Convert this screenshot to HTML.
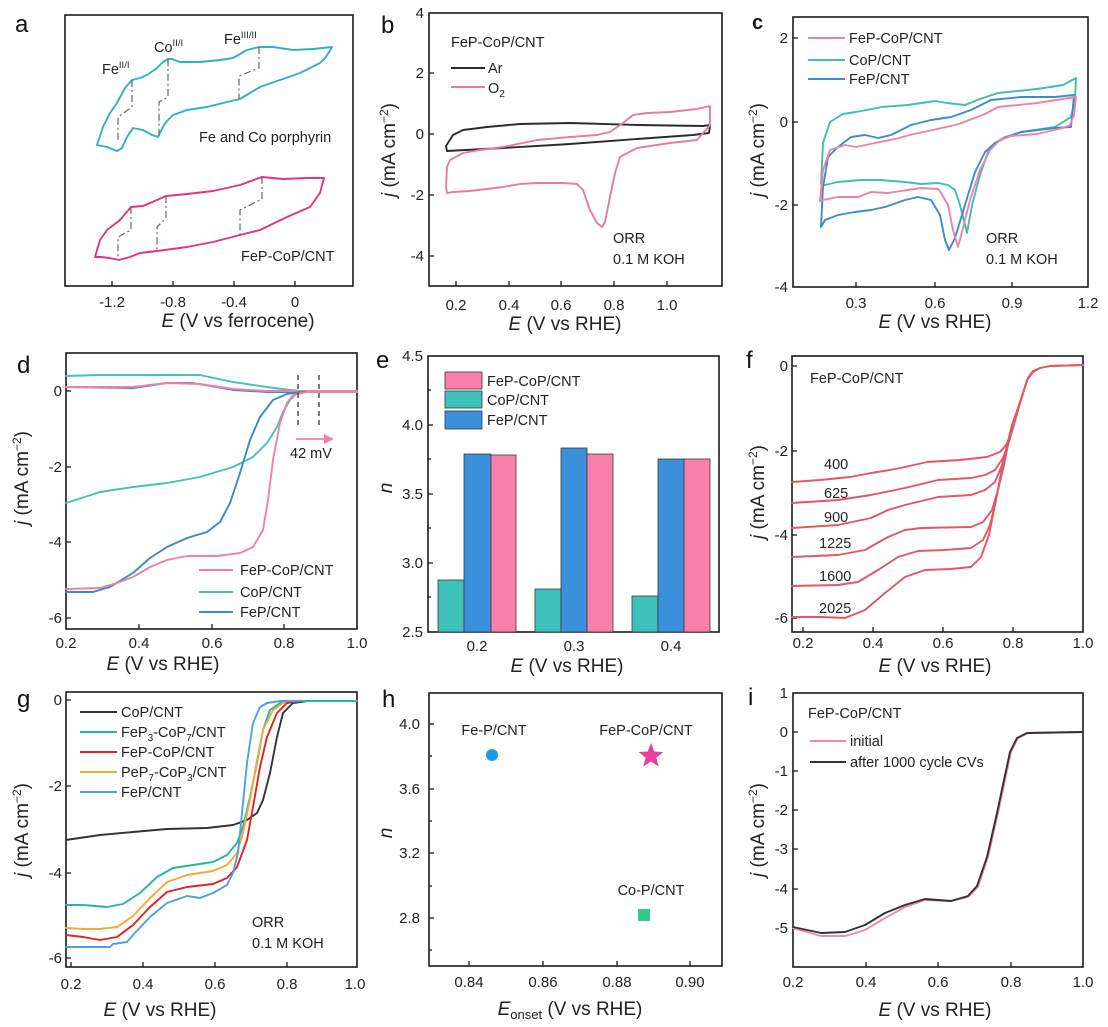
<!DOCTYPE html>
<html><head><meta charset="utf-8"><style>
html,body{margin:0;padding:0;background:#fff;}
svg{display:block;font-family:"Liberation Sans",Arial,sans-serif;}
.ax{fill:none;stroke:#1a1a1a;stroke-width:1.6;}
.tk{stroke:#1a1a1a;stroke-width:1.3;}
.tl{font-size:15px;fill:#222;}
.tt{font-size:19px;fill:#222;}
.lg{font-size:14.5px;fill:#222;}
.pl{font-size:24px;fill:#111;}
.c{fill:none;stroke-width:1.9;stroke-linejoin:round;stroke-linecap:round;}
.dd{fill:none;stroke:#666;stroke-width:1.2;stroke-dasharray:7 3 2 3;}
</style></head><body>
<svg width="1108" height="1027" viewBox="0 0 1108 1027" xmlns="http://www.w3.org/2000/svg">
<rect width="1108" height="1027" fill="#fff"/>

<!-- ===== Panel a ===== -->
<text class="pl" x="15" y="32">a</text>
<rect class="ax" x="65" y="15" width="288" height="271"/>
<g class="tk">
<line x1="112" y1="286" x2="112" y2="281"/><line x1="173" y1="286" x2="173" y2="281"/><line x1="234" y1="286" x2="234" y2="281"/><line x1="295" y1="286" x2="295" y2="281"/>
</g>
<g class="tl" text-anchor="middle">
<text x="112" y="307">-1.2</text><text x="173" y="307">-0.8</text><text x="234" y="307">-0.4</text><text x="295" y="307">0</text>
</g>
<text class="tt" x="238" y="327" text-anchor="middle"><tspan font-style="italic">E</tspan> (V vs ferrocene)</text>
<polyline class="c" stroke="#2FB2BE" points="97,145 103,127 110,113 117,103 125,88 132,80 140,78 147,75 157,68 163,62 168,59 172,59 180,62 200,62 220,60 233,58 247,50 259,47 273,47 293,50 313,49 332,47 326,57 320,63 300,73 280,80 260,87 240,99 227,102 207,107 187,110 173,115 166,122 163,127 158,137 152,135 143,130 133,128 127,137 122,148 117,151 107,147 97,145"/>
<polyline class="dd" points="132,80 132,107 118,117 118,142"/>
<polyline class="dd" points="168,59 168,97 159,102 159,137"/>
<polyline class="dd" points="259,47 259,68 239,76 239,99"/>
<text class="lg" x="102" y="74">Fe<tspan font-size="9.5" dy="-6">II/I</tspan></text>
<text class="lg" x="154" y="52">Co<tspan font-size="9.5" dy="-6">II/I</tspan></text>
<text class="lg" x="224" y="44">Fe<tspan font-size="9.5" dy="-6">III/II</tspan></text>
<text class="lg" x="199" y="142">Fe and Co porphyrin</text>
<polyline class="c" stroke="#E0357F" points="95,257 100,240 107,230 120,220 131,207 143,206 157,200 166,196 187,194 213,191 240,185 262,177 283,179 307,178 324,178 320,193 310,207 287,217 260,230 240,235 213,242 187,247 157,251 140,253 130,257 119,260 110,258 100,257 95,257"/>
<polyline class="dd" points="131,207 131,230 118,237 118,259"/>
<polyline class="dd" points="166,196 166,218 157,227 157,251"/>
<polyline class="dd" points="262,177 262,199 240,210 240,235"/>
<text class="lg" x="241" y="261">FeP-CoP/CNT</text>

<!-- ===== Panel b ===== -->
<text class="pl" x="381" y="33">b</text>
<rect class="ax" x="429" y="13" width="293" height="273"/>
<g class="tk">
<line x1="429" y1="73" x2="434" y2="73"/><line x1="429" y1="134" x2="434" y2="134"/><line x1="429" y1="195" x2="434" y2="195"/><line x1="429" y1="256" x2="434" y2="256"/>
<line x1="456" y1="286" x2="456" y2="281"/><line x1="509" y1="286" x2="509" y2="281"/><line x1="561" y1="286" x2="561" y2="281"/><line x1="614" y1="286" x2="614" y2="281"/><line x1="667" y1="286" x2="667" y2="281"/>
</g>
<g class="tl" text-anchor="end">
<text x="424" y="18">4</text><text x="424" y="78">2</text><text x="424" y="139">0</text><text x="424" y="200">-2</text><text x="424" y="261">-4</text>
</g>
<g class="tl" text-anchor="middle">
<text x="456" y="310">0.2</text><text x="509" y="310">0.4</text><text x="561" y="310">0.6</text><text x="614" y="310">0.8</text><text x="667" y="310">1.0</text>
</g>
<text class="tt" x="565" y="330" text-anchor="middle"><tspan font-style="italic">E</tspan> (V vs RHE)</text>
<text class="tt" transform="translate(395,150) rotate(-90)" text-anchor="middle"><tspan font-style="italic">j</tspan> (mA cm<tspan font-size="12" dy="-7">−2</tspan><tspan dy="7">)</tspan></text>
<text class="lg" x="451" y="47">FeP-CoP/CNT</text>
<line x1="451" y1="68" x2="485" y2="68" stroke="#2b2b2b" stroke-width="1.9"/>
<text class="lg" x="488" y="73">Ar</text>
<line x1="451" y1="87" x2="485" y2="87" stroke="#E87BA0" stroke-width="1.9"/>
<text class="lg" x="488" y="93">O<tspan font-size="10" dy="4">2</tspan></text>
<text class="lg" x="613" y="243">ORR</text>
<text class="lg" x="613" y="264">0.1 M KOH</text>
<polyline class="c" stroke="#2b2b2b" points="446,146 453,135 463,130 487,127 520,124 570,123 637,125 703,126 710,125 709,133 693,135 637,139 570,144 503,148 447,151 446,146"/>
<polyline class="c" stroke="#E87BA0" points="710,106 710,125 697,140 670,143 637,148 620,157 615,173 610,197 605,222 602,227 597,223 590,210 583,190 577,184 563,183 537,183 520,184 503,187 487,189 470,191 453,192 447,193 446,187 447,167 450,160 463,153 480,150 503,147 537,140 570,137 597,135 610,132 623,123 633,115 647,113 670,112 697,109 710,106"/>

<!-- ===== Panel c ===== -->
<text x="752" y="29" font-size="20" font-weight="bold" fill="#111">c</text>
<rect class="ax" x="793" y="17" width="295" height="270"/>
<g class="tk">
<line x1="793" y1="38" x2="798" y2="38"/><line x1="793" y1="122" x2="798" y2="122"/><line x1="793" y1="205" x2="798" y2="205"/>
<line x1="856" y1="287" x2="856" y2="282"/><line x1="935" y1="287" x2="935" y2="282"/><line x1="1012" y1="287" x2="1012" y2="282"/>
</g>
<g class="tl" text-anchor="end">
<text x="788" y="43">2</text><text x="788" y="127">0</text><text x="788" y="210">-2</text><text x="788" y="292">-4</text>
</g>
<g class="tl" text-anchor="middle">
<text x="856" y="308">0.3</text><text x="935" y="308">0.6</text><text x="1012" y="308">0.9</text><text x="1088" y="308">1.2</text>
</g>
<text class="tt" x="935" y="328" text-anchor="middle"><tspan font-style="italic">E</tspan> (V vs RHE)</text>
<text class="tt" transform="translate(764,150) rotate(-90)" text-anchor="middle"><tspan font-style="italic">j</tspan> (mA cm<tspan font-size="12" dy="-7">−2</tspan><tspan dy="7">)</tspan></text>
<line x1="808" y1="38" x2="845" y2="38" stroke="#EE82A8" stroke-width="1.9"/>
<text class="lg" x="849" y="43">FeP-CoP/CNT</text>
<line x1="808" y1="60" x2="845" y2="60" stroke="#3DBFAD" stroke-width="1.9"/>
<text class="lg" x="849" y="65">CoP/CNT</text>
<line x1="808" y1="79" x2="845" y2="79" stroke="#3B8CCB" stroke-width="1.9"/>
<text class="lg" x="849" y="84">FeP/CNT</text>
<text class="lg" x="986" y="243">ORR</text>
<text class="lg" x="986" y="264">0.1 M KOH</text>
<polyline class="c" stroke="#3DBFAD" points="821,184 823,143 830,122 843,114 856,112 882,107 908,105 935,101 947,103 965,105 980,99 998,93 1037,89 1063,85 1076,78 1075,100 1071,117 1055,127 1021,132 1005,137 995,143 988,152 980,175 972,205 967,233 960,205 955,190 948,185 938,183 921,184 905,182 880,180 860,180 838,182 825,185 821,184"/>
<polyline class="c" stroke="#3B8CCB" points="821,227 823,187 828,157 838,147 851,137 865,135 878,138 891,135 911,125 931,120 951,117 971,110 991,100 1021,97 1055,97 1074,95 1071,127 1055,128 1021,132 1005,138 995,143 985,152 975,172 965,205 955,238 949,250 945,240 940,215 931,200 918,197 905,200 885,207 871,210 855,212 838,215 825,220 821,227"/>
<polyline class="c" stroke="#EE82A8" points="820,201 823,170 830,150 845,145 856,147 875,143 895,139 914,134 933,130 959,124 985,114 998,107 1037,103 1076,97 1074,115 1070,125 1063,128 1037,134 1011,136 1000,140 990,150 980,170 970,200 962,232 958,247 953,230 948,205 941,193 938,189 921,188 888,193 871,192 858,197 838,197 823,200 820,201"/>

<!-- ===== Panel d ===== -->
<text class="pl" x="17" y="373">d</text>
<rect class="ax" x="66" y="353" width="291" height="276"/>
<g class="tk">
<line x1="66" y1="391" x2="71" y2="391"/><line x1="66" y1="467" x2="71" y2="467"/><line x1="66" y1="542" x2="71" y2="542"/><line x1="66" y1="618" x2="71" y2="618"/>
<line x1="139" y1="629" x2="139" y2="624"/><line x1="212" y1="629" x2="212" y2="624"/><line x1="284" y1="629" x2="284" y2="624"/>
</g>
<g class="tl" text-anchor="end">
<text x="62" y="396">0</text><text x="62" y="472">-2</text><text x="62" y="547">-4</text><text x="62" y="623">-6</text>
</g>
<g class="tl" text-anchor="middle">
<text x="66" y="648">0.2</text><text x="139" y="648">0.4</text><text x="212" y="648">0.6</text><text x="284" y="648">0.8</text><text x="357" y="648">1.0</text>
</g>
<text class="tt" x="163" y="670" text-anchor="middle"><tspan font-style="italic">E</tspan> (V vs RHE)</text>
<text class="tt" transform="translate(28,478) rotate(-90)" text-anchor="middle"><tspan font-style="italic">j</tspan> (mA cm<tspan font-size="12" dy="-7">−2</tspan><tspan dy="7">)</tspan></text>
<polyline class="c" stroke="#45C2B0" points="66,376 100,375 150,375 200,375 233,382 267,387 290,390 300,391 357,391"/>
<polyline class="c" stroke="#45C2B0" points="66,503 100,492 133,487 167,483 200,477 233,467 253,457 267,443 277,427 283,412 290,400 297,393 307,391 357,391"/>
<polyline class="c" stroke="#3A8AC8" points="66,387 133,388 167,383 193,383 233,390 267,392 357,392"/>
<polyline class="c" stroke="#F080A8" points="66,387 133,387 167,383 200,384 233,389 267,391 357,391"/>
<polyline class="c" stroke="#3A8AC8" points="66,592 93,592 110,587 133,573 150,558 167,547 187,538 207,532 220,522 230,503 240,473 250,440 260,417 273,400 287,394 300,392 357,392"/>
<polyline class="c" stroke="#F080A8" points="66,589 100,588 117,583 133,577 150,567 167,560 187,556 217,556 240,553 253,547 263,530 268,500 273,460 280,423 287,403 293,395 307,392 357,392"/>
<line x1="298" y1="375" x2="298" y2="429" stroke="#333" stroke-width="1.3" stroke-dasharray="5 4"/>
<line x1="319" y1="375" x2="319" y2="429" stroke="#333" stroke-width="1.3" stroke-dasharray="5 4"/>
<line x1="296" y1="439" x2="326" y2="439" stroke="#F080A8" stroke-width="1.8"/>
<polygon points="334,439 324,434 324,444" fill="#F080A8"/>
<text class="lg" x="290" y="458">42 mV</text>
<line x1="199" y1="570" x2="233" y2="570" stroke="#F080A8" stroke-width="1.9"/>
<text class="lg" x="240" y="575">FeP-CoP/CNT</text>
<line x1="199" y1="592" x2="233" y2="592" stroke="#45C2B0" stroke-width="1.9"/>
<text class="lg" x="240" y="597">CoP/CNT</text>
<line x1="199" y1="612" x2="233" y2="612" stroke="#3A8AC8" stroke-width="1.9"/>
<text class="lg" x="240" y="617">FeP/CNT</text>

<!-- ===== Panel e ===== -->
<text class="pl" x="376" y="368">e</text>
<rect class="ax" x="428" y="356" width="291" height="276"/>
<g class="tk">
<line x1="428" y1="425" x2="433" y2="425"/><line x1="428" y1="494" x2="433" y2="494"/><line x1="428" y1="563" x2="433" y2="563"/>
<line x1="428" y1="390" x2="431" y2="390"/><line x1="428" y1="459" x2="431" y2="459"/><line x1="428" y1="528" x2="431" y2="528"/><line x1="428" y1="597" x2="431" y2="597"/>
</g>
<g class="tl" text-anchor="end">
<text x="423" y="361">4.5</text><text x="423" y="430">4.0</text><text x="423" y="499">3.5</text><text x="423" y="568">3.0</text><text x="423" y="637">2.5</text>
</g>
<g class="tl" text-anchor="middle">
<text x="477" y="651">0.2</text><text x="574" y="651">0.3</text><text x="671" y="651">0.4</text>
</g>
<text class="tt" x="567" y="672" text-anchor="middle"><tspan font-style="italic">E</tspan> (V vs RHE)</text>
<text class="tt" transform="translate(392,488) rotate(-90)" text-anchor="middle" font-style="italic">n</text>
<g stroke="#3a3a3a" stroke-width="0.8">
<rect x="438" y="580" width="26" height="52" fill="#3EC1BA"/>
<rect x="464" y="454" width="27" height="178" fill="#3A90DA"/>
<rect x="491" y="455" width="25" height="177" fill="#F77FAA"/>
<rect x="535" y="589" width="26" height="43" fill="#3EC1BA"/>
<rect x="561" y="448" width="26" height="184" fill="#3A90DA"/>
<rect x="587" y="454" width="26" height="178" fill="#F77FAA"/>
<rect x="632" y="596" width="26" height="36" fill="#3EC1BA"/>
<rect x="658" y="459" width="26" height="173" fill="#3A90DA"/>
<rect x="684" y="459" width="26" height="173" fill="#F77FAA"/>
<rect x="445" y="372" width="37" height="17" fill="#F77FAA"/>
<rect x="445" y="391" width="37" height="17" fill="#3EC1BA"/>
<rect x="445" y="411" width="37" height="18" fill="#3A90DA"/>
</g>
<text class="lg" x="487" y="386">FeP-CoP/CNT</text>
<text class="lg" x="487" y="405">CoP/CNT</text>
<text class="lg" x="487" y="425">FeP/CNT</text>

<!-- ===== Panel f ===== -->
<text class="pl" x="746" y="368">f</text>
<rect class="ax" x="792" y="356" width="291" height="276"/>
<g class="tk">
<line x1="792" y1="366" x2="797" y2="366"/><line x1="792" y1="451" x2="797" y2="451"/><line x1="792" y1="535" x2="797" y2="535"/><line x1="792" y1="618" x2="797" y2="618"/>
<line x1="803" y1="632" x2="803" y2="627"/><line x1="873" y1="632" x2="873" y2="627"/><line x1="943" y1="632" x2="943" y2="627"/><line x1="1013" y1="632" x2="1013" y2="627"/>
</g>
<g class="tl" text-anchor="end">
<text x="788" y="371">0</text><text x="788" y="456">-2</text><text x="788" y="540">-4</text><text x="788" y="623">-6</text>
</g>
<g class="tl" text-anchor="middle">
<text x="803" y="648">0.2</text><text x="873" y="648">0.4</text><text x="943" y="648">0.6</text><text x="1013" y="648">0.8</text><text x="1083" y="648">1.0</text>
</g>
<text class="tt" x="935" y="672" text-anchor="middle"><tspan font-style="italic">E</tspan> (V vs RHE)</text>
<text class="tt" transform="translate(764,492) rotate(-90)" text-anchor="middle"><tspan font-style="italic">j</tspan> (mA cm<tspan font-size="12" dy="-7">−2</tspan><tspan dy="7">)</tspan></text>
<text class="lg" x="810" y="383">FeP-CoP/CNT</text>
<g class="c" stroke="#E35665">
<polyline points="792,482 820,480 850,477 871,473 890,470 905,467 927,462 960,460 987,457 1000,452 1006,445 1010,437 1015,420 1020,403 1027,380 1033,372 1040,368 1050,366 1083,365"/>
<polyline points="792,503 838,500 871,495 905,488 938,480 971,478 985,475 995,470 1003,458 1008,445 1013,428 1018,410 1023,393 1028,378 1033,371 1040,368 1050,366 1083,365"/>
<polyline points="792,528 838,525 871,518 888,510 905,505 938,497 971,495 985,490 995,482 1002,465 1007,448 1012,430 1017,412 1023,393 1028,378 1033,371"/>
<polyline points="792,557 838,555 865,550 888,537 905,530 921,528 971,527 983,522 992,510 998,490 1004,465 1009,440 1014,420 1018,408 1023,393 1028,378 1033,371"/>
<polyline points="792,586 838,585 858,582 878,570 898,557 918,551 945,550 971,548 983,540 990,525 996,500 1002,470 1008,443 1013,423 1018,408 1023,393"/>
<polyline points="792,617 821,617 845,618 865,610 885,593 905,577 925,570 951,569 971,567 981,557 989,535 995,505 1001,473 1007,445 1012,425 1018,408 1023,393"/>
</g>
<g class="lg">
<text x="824" y="469">400</text><text x="824" y="498">625</text><text x="824" y="522">900</text>
<text x="819" y="548">1225</text><text x="819" y="581">1600</text><text x="819" y="613">2025</text>
</g>

<!-- ===== Panel g ===== -->
<text class="pl" x="17" y="707">g</text>
<rect class="ax" x="66" y="692" width="291" height="275"/>
<g class="tk">
<line x1="66" y1="700" x2="71" y2="700"/><line x1="66" y1="786" x2="71" y2="786"/><line x1="66" y1="873" x2="71" y2="873"/><line x1="66" y1="958" x2="71" y2="958"/>
<line x1="71" y1="967" x2="71" y2="962"/><line x1="143" y1="967" x2="143" y2="962"/><line x1="215" y1="967" x2="215" y2="962"/><line x1="287" y1="967" x2="287" y2="962"/>
</g>
<g class="tl" text-anchor="end">
<text x="62" y="705">0</text><text x="62" y="791">-2</text><text x="62" y="878">-4</text><text x="62" y="963">-6</text>
</g>
<g class="tl" text-anchor="middle">
<text x="71" y="989">0.2</text><text x="143" y="989">0.4</text><text x="215" y="989">0.6</text><text x="287" y="989">0.8</text><text x="355" y="989">1.0</text>
</g>
<text class="tt" x="160" y="1016" text-anchor="middle"><tspan font-style="italic">E</tspan> (V vs RHE)</text>
<text class="tt" transform="translate(28,830) rotate(-90)" text-anchor="middle"><tspan font-style="italic">j</tspan> (mA cm<tspan font-size="12" dy="-7">−2</tspan><tspan dy="7">)</tspan></text>
<polyline class="c" stroke="#333" points="66,840 100,835 133,832 167,829 207,828 233,825 247,820 257,813 263,800 270,773 277,737 283,713 293,703 307,701 357,701"/>
<polyline class="c" stroke="#27B5A0" points="66,905 83,905 107,907 123,904 140,893 157,877 173,868 193,865 213,862 227,855 237,843 243,827 250,797 257,763 263,730 270,710 280,703 293,701 357,701"/>
<polyline class="c" stroke="#F7A935" points="66,928 83,929 100,929 117,927 133,916 150,898 167,882 187,875 213,871 227,865 237,853 243,833 250,800 257,760 263,730 273,710 283,703 297,701"/>
<polyline class="c" stroke="#E52222" points="66,935 83,937 100,940 117,937 133,925 150,907 167,892 187,887 213,884 227,878 237,867 247,840 253,807 260,767 267,737 277,713 287,703 300,701"/>
<polyline class="c" stroke="#4AA3DE" points="66,947 110,947 113,944 120,943 127,942 133,935 150,917 167,903 187,896 200,898 213,893 227,885 233,873 238,853 242,813 247,763 253,723 260,707 267,703 280,701 300,701"/>
<line x1="80" y1="712" x2="117" y2="712" stroke="#333" stroke-width="1.9"/>
<text class="lg" x="121" y="717">CoP/CNT</text>
<line x1="80" y1="732" x2="117" y2="732" stroke="#27B5A0" stroke-width="1.9"/>
<text class="lg" x="121" y="737">FeP<tspan font-size="10" dy="4">3</tspan><tspan dy="-4">-CoP</tspan><tspan font-size="10" dy="4">7</tspan><tspan dy="-4">/CNT</tspan></text>
<line x1="80" y1="752" x2="117" y2="752" stroke="#E52222" stroke-width="1.9"/>
<text class="lg" x="121" y="757">FeP-CoP/CNT</text>
<line x1="80" y1="772" x2="117" y2="772" stroke="#F7A935" stroke-width="1.9"/>
<text class="lg" x="121" y="777">PeP<tspan font-size="10" dy="4">7</tspan><tspan dy="-4">-CoP</tspan><tspan font-size="10" dy="4">3</tspan><tspan dy="-4">/CNT</tspan></text>
<line x1="80" y1="792" x2="117" y2="792" stroke="#4AA3DE" stroke-width="1.9"/>
<text class="lg" x="121" y="797">FeP/CNT</text>
<text class="lg" x="252" y="927">ORR</text>
<text class="lg" x="252" y="948">0.1 M KOH</text>

<!-- ===== Panel h ===== -->
<text class="pl" x="382" y="707">h</text>
<rect class="ax" x="429" y="693" width="293" height="273"/>
<g class="tk">
<line x1="429" y1="724" x2="434" y2="724"/><line x1="429" y1="789" x2="434" y2="789"/><line x1="429" y1="853" x2="434" y2="853"/><line x1="429" y1="918" x2="434" y2="918"/>
<line x1="429" y1="756" x2="432" y2="756"/><line x1="429" y1="821" x2="432" y2="821"/><line x1="429" y1="886" x2="432" y2="886"/><line x1="429" y1="950" x2="432" y2="950"/>
<line x1="469" y1="966" x2="469" y2="961"/><line x1="543" y1="966" x2="543" y2="961"/><line x1="617" y1="966" x2="617" y2="961"/><line x1="690" y1="966" x2="690" y2="961"/>
</g>
<g class="tl" text-anchor="end">
<text x="420" y="729">4.0</text><text x="420" y="794">3.6</text><text x="420" y="858">3.2</text><text x="420" y="923">2.8</text>
</g>
<g class="tl" text-anchor="middle">
<text x="469" y="987">0.84</text><text x="543" y="987">0.86</text><text x="617" y="987">0.88</text><text x="690" y="987">0.90</text>
</g>
<text class="tt" x="570" y="1015" text-anchor="middle"><tspan font-style="italic">E</tspan><tspan font-size="13" dy="4">onset</tspan><tspan dy="-4"> (V vs RHE)</tspan></text>
<text class="tt" transform="translate(392,833) rotate(-90)" text-anchor="middle" font-style="italic">n</text>
<circle cx="492" cy="755" r="6" fill="#1E9BE8"/>
<polygon fill="#EE3E9A" points="651,743 654.3,751.5 663.4,752 656.3,757.7 658.7,766.5 651,761.5 643.3,766.5 645.7,757.7 638.6,752 647.7,751.5"/>
<rect x="638" y="909" width="12" height="12" fill="#2ECC8A"/>
<text class="lg" x="494" y="735" text-anchor="middle" font-size="16">Fe-P/CNT</text>
<text class="lg" x="646" y="735" text-anchor="middle" font-size="16">FeP-CoP/CNT</text>
<text class="lg" x="651" y="895" text-anchor="middle" font-size="16">Co-P/CNT</text>

<!-- ===== Panel i ===== -->
<text class="pl" x="748" y="705">i</text>
<rect class="ax" x="793" y="693" width="290" height="274"/>
<g class="tk">
<line x1="793" y1="732" x2="798" y2="732"/><line x1="793" y1="771" x2="798" y2="771"/><line x1="793" y1="810" x2="798" y2="810"/><line x1="793" y1="849" x2="798" y2="849"/><line x1="793" y1="889" x2="798" y2="889"/><line x1="793" y1="928" x2="798" y2="928"/>
<line x1="866" y1="967" x2="866" y2="962"/><line x1="938" y1="967" x2="938" y2="962"/><line x1="1011" y1="967" x2="1011" y2="962"/>
</g>
<g class="tl" text-anchor="end">
<text x="788" y="698">1</text><text x="788" y="737">0</text><text x="788" y="776">-1</text><text x="788" y="815">-2</text><text x="788" y="854">-3</text><text x="788" y="894">-4</text><text x="788" y="933">-5</text>
</g>
<g class="tl" text-anchor="middle">
<text x="793" y="987">0.2</text><text x="866" y="987">0.4</text><text x="938" y="987">0.6</text><text x="1011" y="987">0.8</text><text x="1083" y="987">1.0</text>
</g>
<text class="tt" x="935" y="1016" text-anchor="middle"><tspan font-style="italic">E</tspan> (V vs RHE)</text>
<text class="tt" transform="translate(764,830) rotate(-90)" text-anchor="middle"><tspan font-style="italic">j</tspan> (mA cm<tspan font-size="12" dy="-7">−2</tspan><tspan dy="7">)</tspan></text>
<polyline class="c" stroke="#F08AA8" points="793,928 821,936 845,936 865,930 885,918 905,907 925,900 951,901 968,897 978,887 988,857 998,813 1005,780 1011,752 1018,738 1028,733 1083,732"/>
<polyline class="c" stroke="#333" stroke-width="1.6" points="793,927 821,933 845,932 865,925 885,913 905,905 925,899 951,901 968,896 977,886 987,857 997,813 1004,780 1010,752 1017,738 1027,733 1083,732"/>
<text class="lg" x="808" y="718">FeP-CoP/CNT</text>
<line x1="810" y1="741" x2="846" y2="741" stroke="#F08AA8" stroke-width="1.9"/>
<text class="lg" x="850" y="746">initial</text>
<line x1="810" y1="762" x2="846" y2="762" stroke="#333" stroke-width="1.9"/>
<text class="lg" x="850" y="767">after 1000 cycle CVs</text>
</svg>
</body></html>
